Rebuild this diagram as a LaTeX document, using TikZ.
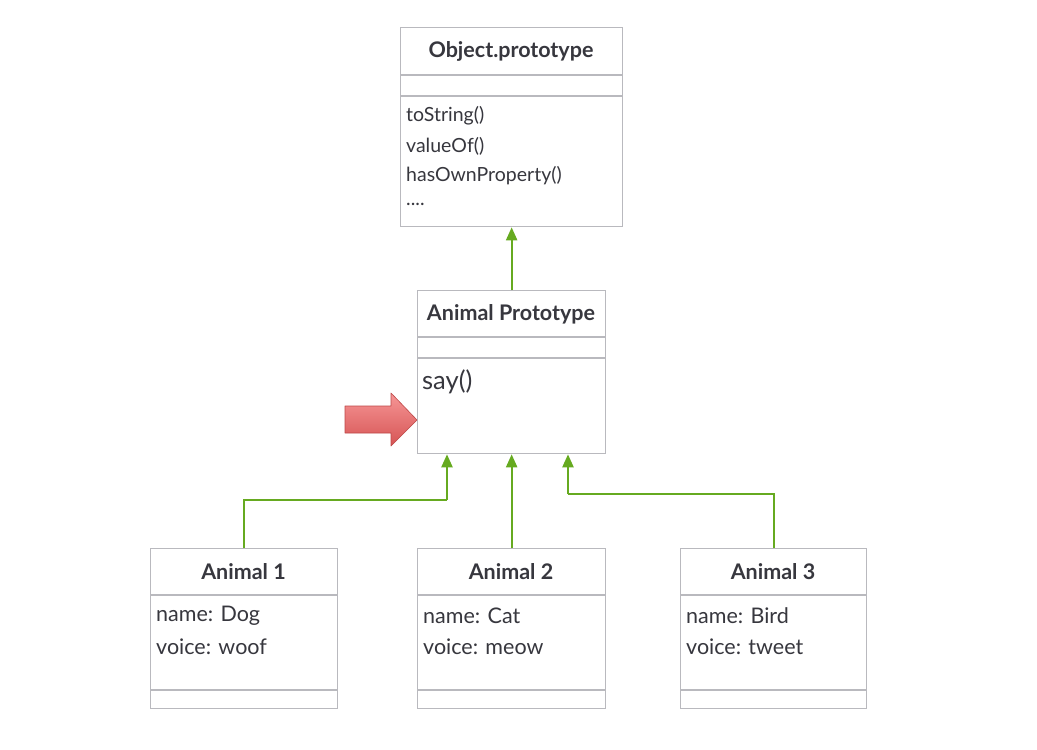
\documentclass[tikz,border=0pt]{standalone}
\usepackage{fontspec}
\setmainfont{Lato}
\usetikzlibrary{arrows.meta,calc}
\definecolor{boxgray}{RGB}{185,185,190}
\definecolor{txt}{RGB}{55,55,62}
\definecolor{grn}{RGB}{102,170,32}
\definecolor{redtop}{RGB}{246,150,150}
\definecolor{redbot}{RGB}{214,84,84}
\definecolor{redline}{RGB}{190,72,72}
\tikzset{
  umlbox/.style={draw=boxgray, line width=1.3pt, fill=white, rectangle, inner sep=0pt, anchor=north west},
  divider/.style={draw=boxgray, line width=1.3pt},
  hdr/.style={text=txt, font=\fontsize{21.5}{24}\selectfont\bfseries, inner sep=0pt},
  body/.style={text=txt, font=\fontsize{19.5}{22}\selectfont, inner sep=0pt, anchor=west},
  abody/.style={text=txt, font=\fontsize{21.5}{24}\selectfont, inner sep=0pt, anchor=west},
  big/.style={text=txt, font=\fontsize{25.5}{28}\selectfont, inner sep=0pt, anchor=west},
  conn/.style={draw=grn, line width=2.2pt, -{Triangle[width=11pt,length=13pt]}},
}
\begin{document}
\begin{tikzpicture}[x=1pt,y=-1pt]
\useasboundingbox[fill=white] (0,0) rectangle (1037,750);

% Object.prototype
\node[umlbox, minimum width=222pt, minimum height=199pt] (obj) at (400,27) {};
\draw[divider] (400,75) -- (622,75);
\draw[divider] (400,96) -- (622,96);
\node[hdr] (objt) at (511,51) {Object.prototype};
\node[body] (o1) at (406,116) {toString()};
\node[body] (o2) at (406,146) {valueOf()};
\node[body] (o3) at (406,176) {hasOwnProperty()};
\node[body] (o4) at (406,204) {....};

% Animal Prototype
\node[umlbox, minimum width=188pt, minimum height=163pt] (ap) at (417,290) {};
\draw[divider] (417,337) -- (605,337);
\draw[divider] (417,358) -- (605,358);
\node[hdr] (apt) at (511,314) {Animal Prototype};
\node[big] (say) at (422,382) {say()};

% Animals
\node[umlbox, minimum width=187pt, minimum height=160pt] (a1) at (150,548) {};
\draw[divider] (150,595) -- (337,595);
\draw[divider] (150,690) -- (337,690);
\node[hdr] (a1t) at (243.5,572) {Animal 1};
\node[abody] (a1n) at (156,616) {name: Dog};
\node[abody] (a1v) at (156,647) {voice: woof};

\node[umlbox, minimum width=188pt, minimum height=160pt] (a2) at (417,548) {};
\draw[divider] (417,595) -- (605,595);
\draw[divider] (417,690) -- (605,690);
\node[hdr] (a2t) at (511,572) {Animal 2};
\node[abody] (a2n) at (423,616) {name: Cat};
\node[abody] (a2v) at (423,647) {voice: meow};

\node[umlbox, minimum width=186pt, minimum height=160pt] (a3) at (680,548) {};
\draw[divider] (680,595) -- (866,595);
\draw[divider] (680,690) -- (866,690);
\node[hdr] (a3t) at (773,572) {Animal 3};
\node[abody] (a3n) at (686,616) {name: Bird};
\node[abody] (a3v) at (686,647) {voice: tweet};

% connectors
\draw[conn] (ap.north) -- (obj.south);
\coordinate (k1) at (447,500);
\coordinate (k3) at (568,494);
\draw[conn, -] (a1.north) |- (k1);
\draw[conn] (k1) -- (k1 |- ap.south);
\draw[conn] (a2.north) -- (ap.south);
\draw[conn, -] (a3.north) |- (k3);
\draw[conn] (k3) -- (k3 |- ap.south);

% red pointer arrow
\path[top color=redtop, bottom color=redbot, draw=redline, line width=0.6pt, line join=round]
  (345,406) -- (391,406) -- (391,393) -- (417,420) -- (391,446) -- (391,433) -- (345,433) -- cycle;
\end{tikzpicture}
\end{document}
